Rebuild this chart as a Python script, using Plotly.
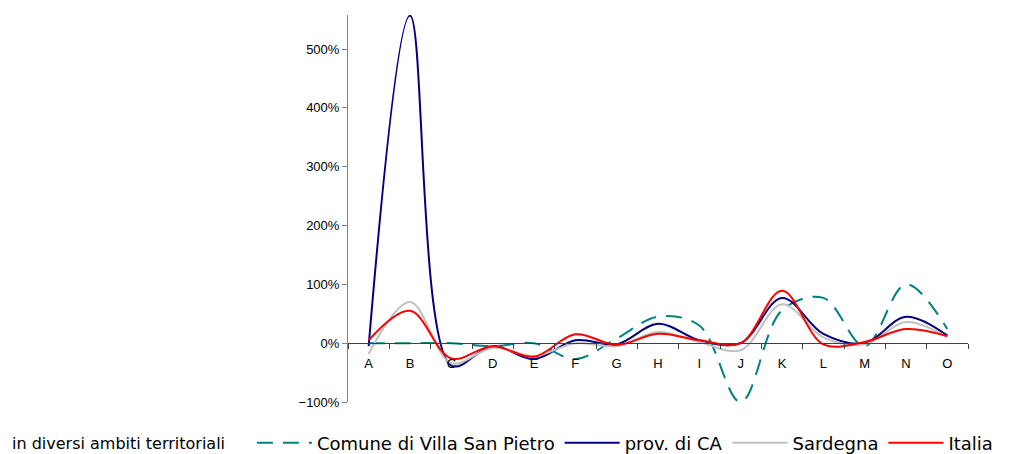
import plotly.graph_objects as go

categories = list("ABCDEFGHIJKLMNO")

comune = [0.0, 0.0, 0.0, -0.05, 0.0, -0.27, 0.08, 0.45, 0.30, -1.0, 0.56, 0.77, -0.05, 1.0, 0.24]
prov_ca = [-0.05, 5.57, -0.38, -0.05, -0.27, 0.05, -0.02, 0.33, 0.05, 0.0, 0.77, 0.16, 0.0, 0.45, 0.13]
sardegna = [-0.18, 0.70, -0.34, -0.08, -0.22, 0.0, -0.05, 0.19, 0.02, -0.12, 0.66, 0.10, -0.02, 0.36, 0.10]
italia = [0.05, 0.55, -0.26, -0.05, -0.23, 0.15, -0.03, 0.16, 0.05, 0.0, 0.89, -0.02, 0.02, 0.24, 0.12]

series = [
    ("Comune di Villa San Pietro", comune, "#008080", "16px,10px"),
    ("prov. di CA", prov_ca, "#000080", "solid"),
    ("Sardegna", sardegna, "#C0C0C0", "solid"),
    ("Italia", italia, "#FF0000", "solid"),
]

fig = go.Figure()
for name, vals, color, dash in series:
    fig.add_trace(go.Scatter(
        x=categories, y=vals, name=name, mode="lines",
        line=dict(color=color, width=2, dash=dash, shape="spline", smoothing=1),
        hoverinfo="skip",
    ))

# page body has an 8px margin, so the figure is shifted by that much
ymin, ymax = -1.0, 5.58
fig.update_layout(
    width=1001, height=470,
    margin=dict(l=340, r=41, t=7, b=76),
    paper_bgcolor="white", plot_bgcolor="white",
    font=dict(family="Liberation Sans, Arial", size=13, color="black"),
    showlegend=True,
    legend=dict(
        orientation="h", x=-0.155, xanchor="left", y=-0.058, yanchor="top",
        font=dict(family="DejaVu Sans", size=18, color="black"),
        itemwidth=55, tracegroupgap=0, bgcolor="rgba(0,0,0,0)",
    ),
    xaxis=dict(
        type="category", range=[-0.5, 14.5], anchor="free",
        position=(0 - ymin) / (ymax - ymin),
        showline=True, linecolor="#404040", linewidth=1,
        ticks="outside", tickson="boundaries", ticklen=5, tickcolor="#404040",
        showgrid=False, zeroline=False, ticklabelstandoff=8,
    ),
    yaxis=dict(
        range=[ymin, ymax], dtick=1, tick0=0, tickformat=".0%",
        showline=True, linecolor="#808080", linewidth=1,
        ticks="outside", ticklen=5, tickcolor="#808080",
        showgrid=False, zeroline=False,
    ),
    annotations=[dict(
        text="in diversi ambiti territoriali", xref="paper", yref="paper",
        x=(10 - 348) / 620, y=-0.106, xanchor="left", yanchor="middle", showarrow=False,
        font=dict(family="DejaVu Sans", size=16, color="black"),
    )],
)

fig.write_html("out.html")
